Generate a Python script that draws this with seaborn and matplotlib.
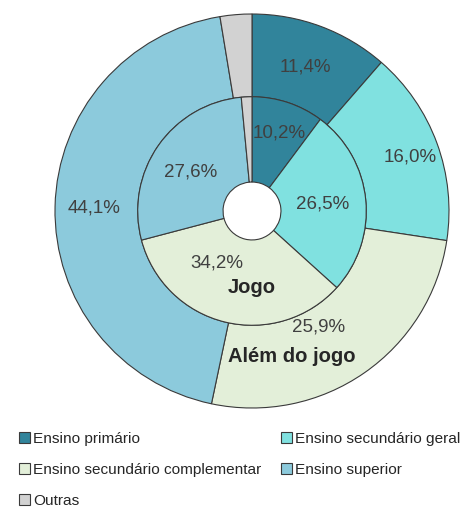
import numpy as np
import matplotlib
matplotlib.use("Agg")
import matplotlib.pyplot as plt
import matplotlib.patches as mpatches
import seaborn as sns

# categories and shares (%)
categorias = ["Ensino primário", "Ensino secundário geral",
              "Ensino secundário complementar", "Ensino superior", "Outras"]
alem_do_jogo = [11.4, 16.0, 25.9, 44.1, 2.6]   # outer ring
jogo = [10.2, 26.5, 34.2, 27.6, 1.5]           # inner ring
cores = ["#31849b", "#80e1e0", "#e3efd9", "#8ccadc", "#d2d2d2"]

sns.set_style("white")
plt.rcParams["font.family"] = ["Liberation Sans", "DejaVu Sans"]

fig = plt.figure(figsize=(4.66, 5.08), dpi=100)
ax = fig.add_axes([55 / 466, 100 / 508, 394 / 466, 394 / 508])

edge = dict(edgecolor="#3a3a3a", linewidth=0.8)
ax.pie(alem_do_jogo, colors=cores, startangle=90, counterclock=False,
       radius=1.0, wedgeprops=dict(width=0.42, **edge))
ax.pie(jogo, colors=cores, startangle=90, counterclock=False,
       radius=0.58, wedgeprops=dict(width=0.433, **edge))

ax.set_xlim(-1, 1)
ax.set_ylim(-1, 1)
ax.set_aspect("equal")
ax.axis("off")


def fmt(v):
    return f"{v:.1f}".replace(".", ",") + "%"


def mid_angles(vals):
    cum = np.cumsum([0] + list(vals)) / 100.0 * 360
    return 90 - (cum[:-1] + cum[1:]) / 2


# label radius / angle nudge per slice (last slice has no label)
out_r = [0.78, 0.85, 0.68, 0.80]
out_da = [0, -1.5, -5, 0]
in_r = [0.42, 0.36, 0.32, 0.37]
in_da = [-1, 0, -20, 3]

txt = "#404040"
for v, a, r, da in zip(alem_do_jogo, mid_angles(alem_do_jogo), out_r, out_da):
    t = np.deg2rad(a + da)
    ax.text(r * np.cos(t), r * np.sin(t), fmt(v), ha="center", va="center",
            fontsize=13.5, color=txt)
for v, a, r, da in zip(jogo, mid_angles(jogo), in_r, in_da):
    t = np.deg2rad(a + da)
    ax.text(r * np.cos(t), r * np.sin(t), fmt(v), ha="center", va="center",
            fontsize=13.5, color=txt)

ax.text(0, -0.39, "Jogo", ha="center", va="center", fontsize=14.5,
        fontweight="bold", color="#262626")
ax.text(0.20, -0.74, "Além do jogo", ha="center", va="center", fontsize=14.5,
        fontweight="bold", color="#262626")

# legend: two columns, filled column by column
handles = [mpatches.Patch(facecolor=c, edgecolor="#3a3a3a", linewidth=0.8)
           for c in cores]
order = [0, 2, 4, 1, 3]
fig.legend([handles[i] for i in order], [categorias[i] for i in order],
           loc="upper left", bbox_to_anchor=(19 / 466, 1 - 432 / 508),
           ncol=2, frameon=False, fontsize=11.1, borderpad=0, borderaxespad=0,
           handlelength=0.7, handleheight=0.7, handletextpad=0.2,
           labelspacing=1.1, columnspacing=1.3, labelcolor="#262626")

fig.savefig("out.png", dpi=100)
